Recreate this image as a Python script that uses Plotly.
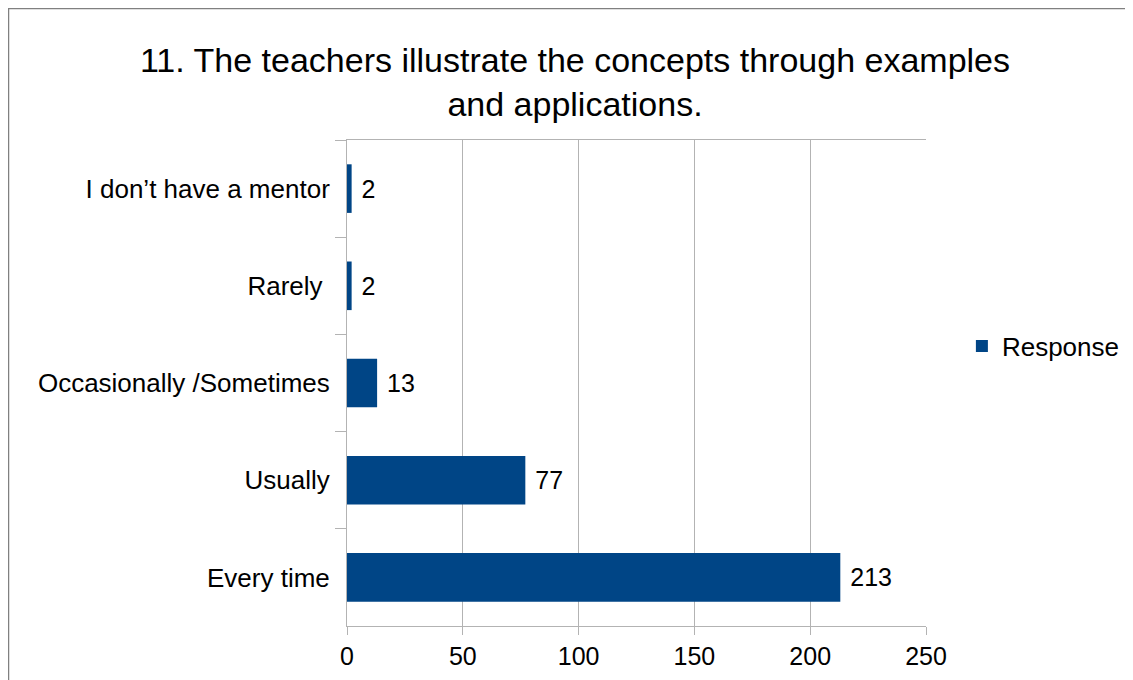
import plotly.graph_objects as go

categories = [
    'I don\u2019t have a mentor',
    'Rarely\u00a0',
    'Occasionally /Sometimes',
    'Usually',
    'Every time',
]
responses = [2, 2, 13, 77, 213]
x_ticks = [0, 50, 100, 150, 200, 250]

bar_color = '#004586'
grid_color = '#b3b3b3'
font_family = 'Liberation Sans, Arial, sans-serif'

# page body adds an 8px offset, so the figure is sized to fit inside the window
fig_w, fig_h = 1125, 672
m_l, m_r, m_t, m_b = 339, 207, 132, 54
plot_w = fig_w - m_l - m_r
plot_h = fig_h - m_t - m_b

fig = go.Figure()
fig.add_trace(go.Bar(
    y=categories,
    x=responses,
    orientation='h',
    name='Response',
    marker=dict(color=bar_color, line=dict(width=0)),
    text=responses,
    texttemplate=' %{text}',
    textposition='outside',
    textfont=dict(size=25, color='black'),
    cliponaxis=False,
    width=0.5,
    showlegend=True,
))

fig.update_layout(
    width=fig_w,
    height=fig_h,
    margin=dict(l=m_l, r=m_r, t=m_t, b=m_b, autoexpand=False),
    paper_bgcolor='white',
    plot_bgcolor='white',
    font=dict(family=font_family, size=25, color='black'),
    title=dict(
        text='11. The teachers illustrate the concepts through examples<br>and applications.',
        x=0.504,
        xanchor='center',
        y=0.905,
        yanchor='top',
        font=dict(size=34, color='black'),
    ),
    xaxis=dict(
        range=[0, 250],
        tickvals=x_ticks,
        showgrid=True,
        gridcolor=grid_color,
        gridwidth=1,
        showline=True,
        linecolor=grid_color,
        mirror=True,
        ticks='outside',
        ticklen=8,
        tickcolor=grid_color,
        zeroline=False,
        tickfont=dict(size=25),
    ),
    yaxis=dict(
        autorange='reversed',
        showgrid=False,
        showline=True,
        linecolor=grid_color,
        ticks='outside',
        tickson='boundaries',
        ticklen=11,
        tickcolor=grid_color,
        ticklabelstandoff=11,
        tickfont=dict(size=26),
    ),
    legend=dict(
        x=1.062,
        y=0.576,
        xanchor='left',
        yanchor='middle',
        font=dict(size=26),
        itemwidth=30,
        bgcolor='rgba(0,0,0,0)',
    ),
    shapes=[dict(
        type='rect',
        xref='paper', yref='paper',
        x0=(0.5 - m_l) / plot_w, x1=(1122 - m_l) / plot_w,
        y0=(plot_h + m_t - fig_h - 20) / plot_h, y1=(plot_h + m_t - 0.5) / plot_h,
        line=dict(color='#808080', width=1.5),
        fillcolor='rgba(0,0,0,0)',
        layer='below',
    )],
)

fig.write_html('out.html')
